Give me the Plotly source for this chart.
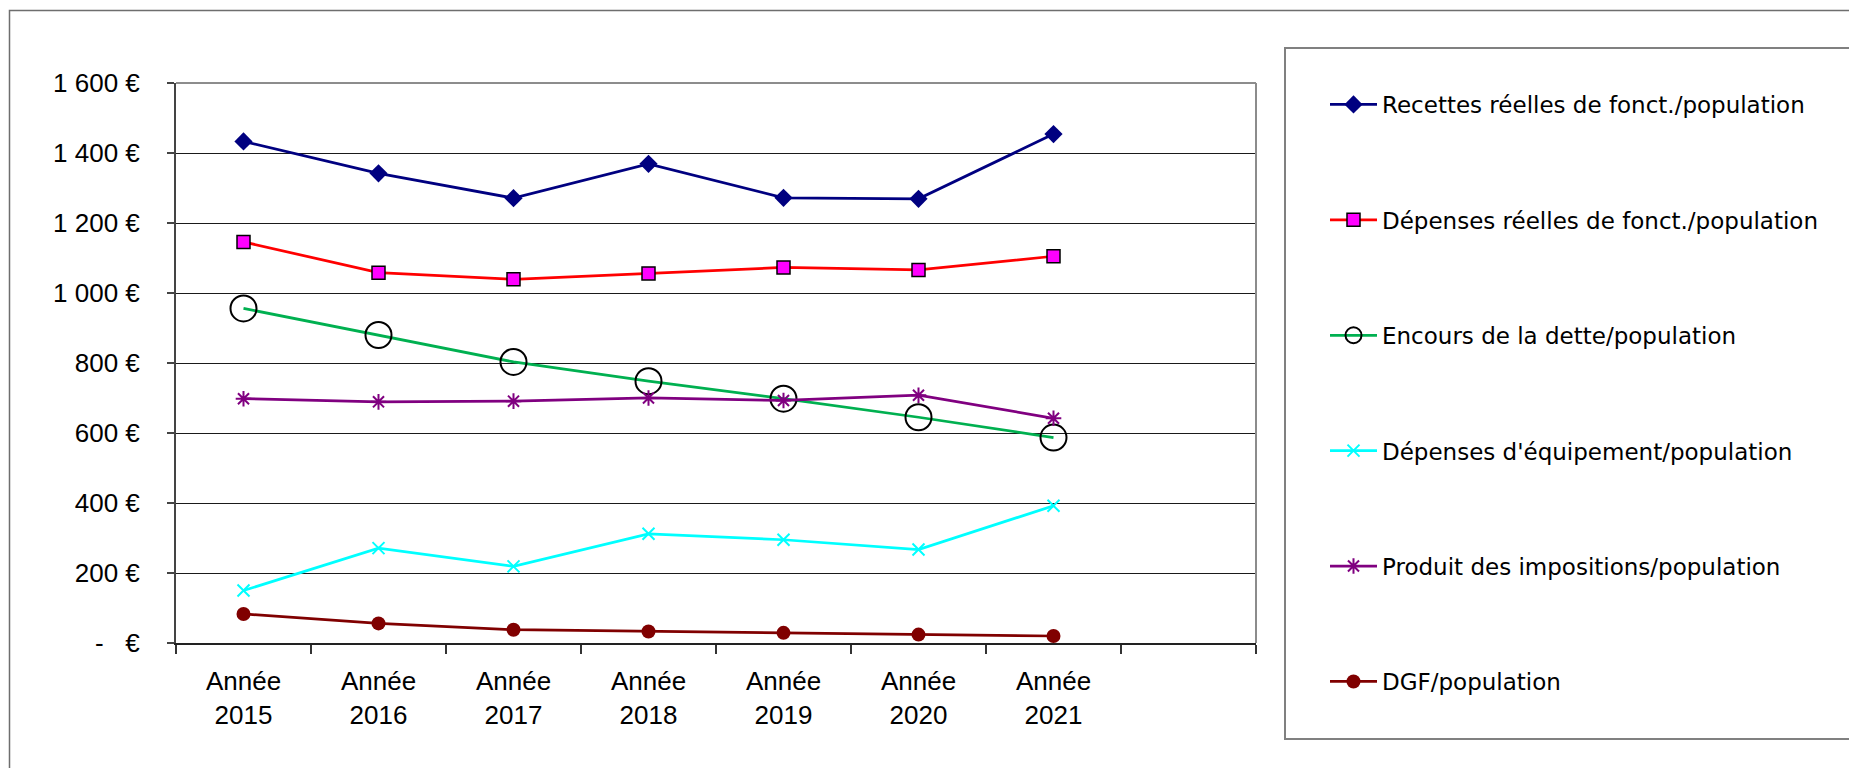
import plotly.graph_objects as go

# Years and per-inhabitant figures (€)
years = ["2015", "2016", "2017", "2018", "2019", "2020", "2021"]
recettes = [1433, 1342, 1271, 1369, 1272, 1269, 1454]
depenses = [1146, 1058, 1039, 1056, 1073, 1066, 1105]
encours = [956, 880, 803, 748, 698, 645, 587]
equipement = [150, 271, 219, 312, 295, 267, 392]
impositions = [698, 689, 691, 700, 693, 708, 642]
dgf = [83, 56, 38, 33, 29, 24, 20]

y_ticks = [0, 200, 400, 600, 800, 1000, 1200, 1400, 1600]
y_labels = ["-\u00a0\u00a0\u00a0€", "200\u00a0€", "400\u00a0€", "600\u00a0€", "800\u00a0€",
            "1\u00a0000\u00a0€", "1\u00a0200\u00a0€", "1\u00a0400\u00a0€", "1\u00a0600\u00a0€"]
x_labels = ["Année<br>" + y for y in years]

W, H = 1849, 768
L, R, T, B = 176, 593, 83, 125
PW, PH = W - L - R, H - T - B


def px_x(p):
    return (p - L) / PW


def px_y(p):
    return (H - B - p) / PH


xs = list(range(len(years)))

series = [
    dict(name="Recettes réelles de fonct./population", y=recettes, color="#000080",
         marker=dict(symbol="diamond", size=14, color="#000080")),
    dict(name="Dépenses réelles de fonct./population", y=depenses, color="#FF0000",
         marker=dict(symbol="square", size=13, color="#FF00FF",
                     line=dict(color="#000000", width=1.5))),
    dict(name="Encours de la dette/population", y=encours, color="#00B050",
         marker=dict(symbol="circle-open", size=26, color="#000000",
                     line=dict(color="#000000", width=2))),
    dict(name="Dépenses d'équipement/population", y=equipement, color="#00FFFF",
         marker=dict(symbol="x-thin-open", size=12, color="#00FFFF",
                     line=dict(color="#00FFFF", width=2))),
    dict(name="Produit des impositions/population", y=impositions, color="#800080",
         marker=dict(symbol="asterisk-open", size=13, color="#800080",
                     line=dict(color="#800080", width=2))),
    dict(name="DGF/population", y=dgf, color="#800000",
         marker=dict(symbol="circle", size=14, color="#800000")),
]

fig = go.Figure()
for i, s in enumerate(series):
    fig.add_trace(go.Scatter(
        x=xs, y=s["y"], name=s["name"], mode="lines+markers",
        line=dict(color=s["color"], width=2.75),
        marker=s["marker"], legendgroup=f"g{i}",
    ))

fig.update_layout(
    width=W, height=H,
    margin=dict(l=L, r=R, t=T, b=B, pad=0),
    paper_bgcolor="white", plot_bgcolor="white",
    font=dict(family="Liberation Sans, Arial, sans-serif", size=26, color="#000000"),
    showlegend=True,
    legend=dict(
        x=px_x(1325), y=px_y(83), xanchor="left", yanchor="top",
        font=dict(family="DejaVu Sans, Verdana, sans-serif", size=23, color="#000000"),
        bgcolor="rgba(0,0,0,0)", borderwidth=0,
        traceorder="grouped", tracegroupgap=82.5, itemwidth=47,
        maxheight=720,
    ),
    xaxis=dict(
        range=[-0.5, 7.5], tickmode="array", tickvals=xs, ticktext=x_labels,
        ticks="", showgrid=False, zeroline=False,
        showline=True, linecolor="#222222", linewidth=2,
        minor=dict(tickmode="array", tickvals=[i - 0.5 for i in range(9)],
                   ticks="outside", ticklen=9, tickwidth=1.5, tickcolor="#333333",
                   showgrid=False),
        ticklabelstandoff=14,
        tickfont=dict(family="Liberation Sans, Arial, sans-serif", size=26),
        fixedrange=True,
    ),
    yaxis=dict(
        range=[0, 1600], tickmode="array", tickvals=y_ticks, ticktext=y_labels,
        ticks="outside", ticklen=7, tickwidth=1.5, tickcolor="#444444",
        showgrid=True, gridcolor="#1a1a1a", gridwidth=1,
        zeroline=False, showline=True, linecolor="#444444", linewidth=2,
        ticklabelstandoff=22,
        tickfont=dict(family="Liberation Sans, Arial, sans-serif", size=26),
        fixedrange=True,
    ),
    shapes=[
        # top edge of the plotting area (1 600 € gridline)
        dict(type="line", xref="paper", yref="paper", x0=0, x1=1, y0=1, y1=1,
             line=dict(color="#1a1a1a", width=1)),
        # right edge of the plotting area
        dict(type="line", xref="paper", yref="paper", x0=1, x1=1, y0=0, y1=1,
             line=dict(color="#8c8c8c", width=2)),
        # outer chart frame
        dict(type="rect", xref="paper", yref="paper",
             x0=px_x(9.5), x1=px_x(1870), y0=px_y(790), y1=px_y(10.5),
             line=dict(color="#6e6e6e", width=1.5), layer="below"),
        # legend frame
        dict(type="rect", xref="paper", yref="paper",
             x0=px_x(1285), x1=px_x(1870), y0=px_y(739), y1=px_y(48),
             line=dict(color="#808080", width=2), layer="below"),
    ],
)

fig.write_html("out.html")
